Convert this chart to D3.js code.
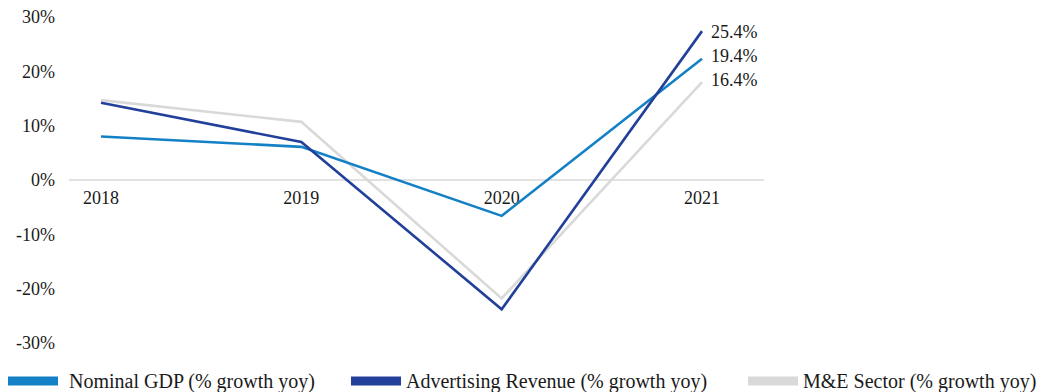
<!DOCTYPE html>
<html>
<head>
<meta charset="utf-8">
<script src="https://cdn.jsdelivr.net/npm/d3@7"></script>
<style>
  body { margin: 0; background: #fff; }
  text { font-family: "Liberation Serif", "DejaVu Serif", serif; fill: #1a1a1a; }
</style>
</head>
<body>
<svg width="1050" height="392"></svg>
<script>
(function() {
    var years = ["2018", "2019", "2020", "2021"];
    var gdp = [8.0, 6.1, -6.6, 22.3];
    var adRevenue = [14.2, 7.0, -23.8, 27.4];
    var meSector = [14.7, 10.7, -21.8, 18.0];
    var endLabels = ["25.4%", "19.4%", "16.4%"];
    var yTicks = [-30, -20, -10, 0, 10, 20, 30];

    var series = [
        {name: "Nominal GDP (% growth yoy)", values: gdp, color: "#1481c6"},
        {name: "Advertising Revenue (% growth yoy)", values: adRevenue, color: "#22409a"},
        {name: "M&E Sector (% growth yoy)", values: meSector, color: "#d9d9d9"}
    ];

    var svg = d3.select("svg");

    var x = d3.scalePoint()
            .domain(years)
            .range([101, 702]);

    var y = d3.scaleLinear()
            .domain([-30, 30])
            .range([343, 17]);

    // y tick labels, no axis line
    svg.append("g")
            .selectAll("text")
            .data(yTicks)
        .enter().append("text")
            .attr("x", 55)
            .attr("y", d => y(d))
            .attr("dy", "0.35em")
            .attr("text-anchor", "end")
            .style("font-size", "18px")
            .text(d => d + "%");

    // zero line
    svg.append("line")
            .attr("x1", x.range()[0] - 32)
            .attr("x2", x.range()[1] + 62)
            .attr("y1", y(0))
            .attr("y2", y(0))
            .attr("stroke", "#d9d9d9")
            .attr("stroke-width", 1.5);

    svg.append("g")
            .selectAll("text")
            .data(years)
        .enter().append("text")
            .attr("x", d => x(d))
            .attr("y", y(0) + 24)
            .attr("text-anchor", "middle")
            .style("font-size", "18px")
            .text(d => d);

    var line = d3.line()
            .x((d, i) => x(years[i]))
            .y(d => y(d));

    // grey first so the blues sit on top
    [series[2], series[0], series[1]].forEach(s => {
        svg.append("path")
                .datum(s.values)
                .attr("fill", "none")
                .attr("stroke", s.color)
                .attr("stroke-width", 2.6)
                .attr("d", line);
    });

    // end value labels
    svg.append("g")
            .selectAll("text")
            .data(endLabels)
        .enter().append("text")
            .attr("x", x(years[3]) + 9)
            .attr("y", (d, i) => 32 + i * 24)
            .attr("dy", "0.35em")
            .style("font-size", "18px")
            .text(d => d);

    // legend
    var legendX = [8, 351, 748];
    var legend = svg.append("g")
            .selectAll("g")
            .data(series)
        .enter().append("g")
            .attr("transform", (d, i) => "translate(" + legendX[i] + ",381)");

    legend.append("rect")
            .attr("x", 0)
            .attr("y", -4.5)
            .attr("width", 50)
            .attr("height", 9)
            .attr("fill", d => d.color);

    legend.append("text")
            .attr("x", (d, i) => i === 0 ? 61 : 55)
            .attr("y", 0)
            .attr("dy", "0.35em")
            .style("font-size", "20px")
            .text(d => d.name);
})();
</script>
</body>
</html>
